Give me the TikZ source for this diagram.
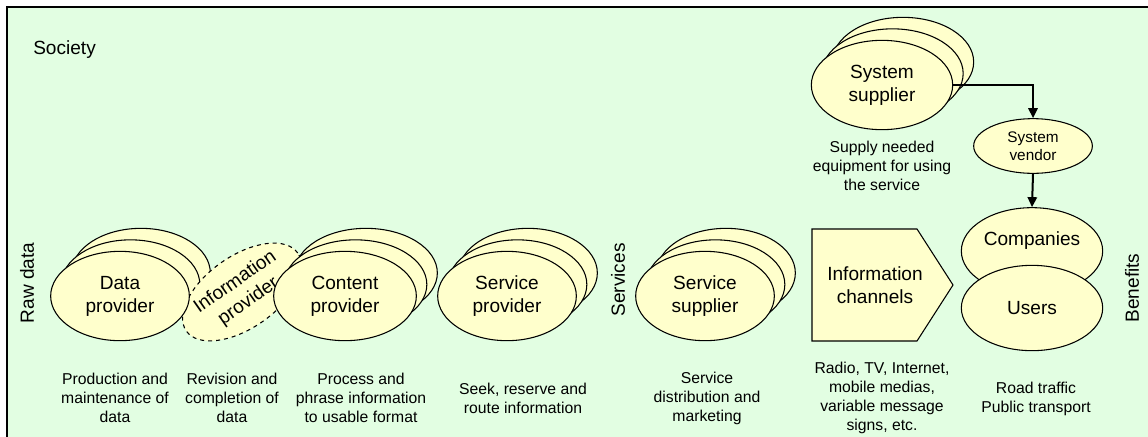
\documentclass[tikz,border=0pt]{standalone}
\usepackage{fontspec}
\setmainfont{Liberation Sans}
\usetikzlibrary{shapes.geometric,arrows.meta}
\definecolor{bgG}{RGB}{226,254,226}
\definecolor{fillY}{RGB}{255,255,204}
\tikzset{
  ell/.style={ellipse, draw, fill=fillY, line width=0.8pt, inner sep=0pt,
    minimum width=104pt, minimum height=67pt, align=center,
    font=\fontsize{14.3}{17.3}\selectfont},
  big/.style={font=\fontsize{14.3}{17.3}\selectfont, inner sep=0pt},
  lab/.style={font=\fontsize{11.8}{14.3}\selectfont, align=center, inner sep=0pt},
  conn/.style={line width=1.5pt, -{Triangle[length=7.5pt,width=7pt]}},
}
\begin{document}
\begin{tikzpicture}[x=0.75pt,y=-0.75pt]
\useasboundingbox (0,0) rectangle (1148,436);
\draw[line width=1.4pt, fill=bgG] (7,7) rectangle (1170,460);

\node[big, anchor=west] (soc) at (33,50) {Society};
\node[big, rotate=90] (raw) at (27,283) {Raw data};
\node[big, rotate=90] (serv) at (618,280) {Services};
\node[big, rotate=90] (ben) at (1132,288) {Benefits};

% Data provider stack (back)
\node[ell] (dp2) at (141,273) {};
\node[ell] (dp1) at (130.5,284.5) {};
% Information provider
\node[ell, dashed, rotate=35, minimum width=102pt, minimum height=54pt] (ip) at (242,292)
  {Information\\provider};
% Data provider front
\node[ell] (dp) at (120,296) {Data\\provider};

% Content provider
\node[ell, minimum width=107pt] (cp2) at (366,273) {};
\node[ell, minimum width=107pt] (cp1) at (355.5,284.5) {};
\node[ell, minimum width=107pt] (cp) at (345,296) {Content\\provider};

% Service provider
\node[ell] (sp2) at (528,273) {};
\node[ell] (sp1) at (517.5,284.5) {};
\node[ell] (sp) at (507,296) {Service\\provider};

% Service supplier
\node[ell] (ss2) at (726,273) {};
\node[ell] (ss1) at (715.5,284.5) {};
\node[ell] (ss) at (705,296) {Service\\supplier};

% Information channels
\draw[line width=0.8pt, fill=fillY] (812,229) -- (917,229) -- (953,285) -- (917,341) -- (812,341) -- cycle;
\node[big, align=center] (ic) at (875,285) {Information\\channels};

% Companies / Users
\node[ell, minimum width=106pt, minimum height=65pt] (comp) at (1032,251) {};
\node[big] (comptxt) at (1032,241) {Companies};
\node[ell, minimum width=106pt, minimum height=64pt] (users) at (1032,308) {Users};

% System supplier stack
\node[ell, minimum width=106pt] (sy2) at (903,62) {};
\node[ell, minimum width=106pt] (sy1) at (892.5,73.5) {};
\node[ell, minimum width=106pt] (sy) at (882,85) {System\\supplier};

% System vendor
\node[ell, minimum width=89pt, minimum height=41pt, font=\fontsize{11.5}{13.5}\selectfont] (sv) at (1033,146) {System\\vendor};

\draw[conn] (sy.east) -| (sv.north);
\draw[conn] (sv.south) -- (comp.north);

% Labels
\node[lab] (l1) at (115,398) {Production and\\maintenance of\\data};
\node[lab] (l2) at (232,398) {Revision and\\completion of\\data};
\node[lab] (l3) at (361,398) {Process and\\phrase information\\to usable format};
\node[lab] (l4) at (523,398.5) {Seek, reserve and\\route information};
\node[lab] (l5) at (707,398) {Service\\distribution and\\marketing};
\node[lab] (l6) at (882,398) {Radio, TV, Internet,\\mobile medias,\\variable message\\signs, etc.};
\node[lab] (l7) at (1036,398.5) {Road traffic\\Public transport};
\node[lab] (l8) at (882,166) {Supply needed\\equipment for using\\the service};
\end{tikzpicture}
\end{document}
